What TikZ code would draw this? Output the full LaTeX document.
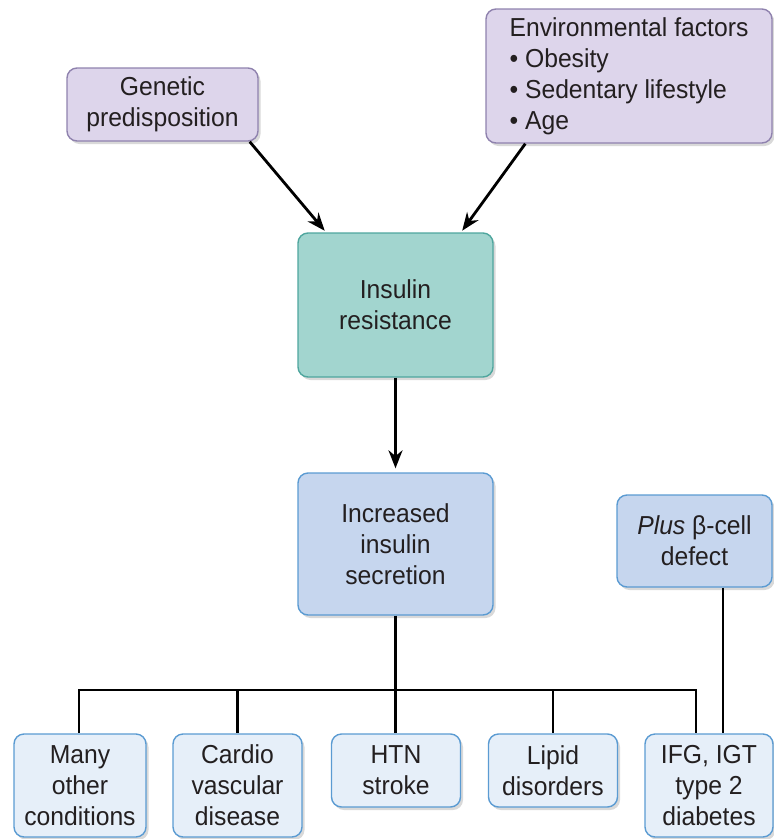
\documentclass[tikz,border=0pt]{standalone}
\usepackage{fontspec}
\setmainfont{Liberation Sans}[FakeStretch=0.95]
\usetikzlibrary{arrows.meta,shadows,calc}
\definecolor{purfill}{HTML}{DDD5EB}
\definecolor{purdraw}{HTML}{8F82AE}
\definecolor{tealfill}{HTML}{A2D5CF}
\definecolor{tealdraw}{HTML}{4FA69E}
\definecolor{bluefill}{HTML}{C6D6EE}
\definecolor{bluedraw}{HTML}{5B9BD2}
\definecolor{lightfill}{HTML}{E6EFF9}
\definecolor{txt}{HTML}{231F20}
\tikzset{
  box/.style={rectangle, rounded corners=10pt, line width=1.4pt, inner sep=0pt,
    align=center, text=txt, font=\fontsize{26}{31}\selectfont,
    drop shadow={shadow xshift=2.5pt, shadow yshift=-3pt, opacity=0.25, fill=black!60}},
  purbox/.style={box, fill=purfill, draw=purdraw},
  tealbox/.style={box, fill=tealfill, draw=tealdraw},
  bluebox/.style={box, fill=bluefill, draw=bluedraw},
  lowbox/.style={box, fill=lightfill, draw=bluedraw, minimum width=129pt},
  arr/.style={line width=2.8pt, draw=black, -{Stealth[length=18pt,width=14pt]}},
  conn/.style={line width=2.8pt, draw=black}
}
\begin{document}
\begin{tikzpicture}[x=1pt,y=-1pt]
\useasboundingbox (0,0) rectangle (774,839);
% top boxes
\node[purbox, minimum width=191pt, minimum height=73pt] (gen) at (162.5,104.5) {Genetic\\predisposition};
\node[purbox, minimum width=286pt, minimum height=134pt, align=left] (env) at (629,76)
  {Environmental factors\\• Obesity\\• Sedentary lifestyle\\• Age};
% middle
\node[tealbox, minimum width=195pt, minimum height=144pt] (ir) at (395.5,305) {Insulin\\resistance};
\node[bluebox, minimum width=195pt, minimum height=142pt] (iis) at (395.5,544) {Increased\\insulin\\secretion};
\node[bluebox, minimum width=155pt, minimum height=92pt] (plus) at (694.5,541) {\textit{Plus} β-cell\\defect};
% bottom row
\node[lowbox, minimum width=132pt, minimum height=103pt] (many) at (80,785.5) {Many\\other\\conditions};
\node[lowbox, minimum height=103pt] (cardio) at (237.5,785.5) {Cardio\\vascular\\disease};
\node[lowbox, minimum height=73pt] (htn) at (396,770.5) {HTN\\stroke};
\node[lowbox, minimum height=73pt] (lipid) at (553,770.5) {Lipid\\disorders};
\node[lowbox, minimum width=128pt, minimum height=103pt] (ifg) at (709,785.5) {IFG, IGT\\type 2\\diabetes};
% coordinates of the bus
\coordinate (busL) at (79,690);
\coordinate (busR) at (696,690);
% arrows
\draw[arr, shorten >=2pt] ([xshift=-9pt]gen.south east) -- ([xshift=-69.5pt]ir.north);
\draw[arr, shorten >=2pt] ([xshift=40pt]env.south west) -- ([xshift=65.5pt]ir.north);
\draw[arr, shorten >=4pt] (ir.south) -- (iis.north);
% connectors
\draw[conn] (iis.south) -- (iis.south |- htn.north);
\draw[conn, line cap=rect] (busL) -- (busR);
\draw[conn] (busL) -- (busL |- many.north);
\draw[conn] (cardio.north |- busL) -- (cardio.north);
\draw[conn] (lipid.north |- busL) -- (lipid.north);
\draw[conn] (busR) -- (busR |- ifg.north);
\draw[conn] ([xshift=28.5pt]plus.south) -- ([xshift=28.5pt]plus.south |- ifg.north);
\end{tikzpicture}
\end{document}
